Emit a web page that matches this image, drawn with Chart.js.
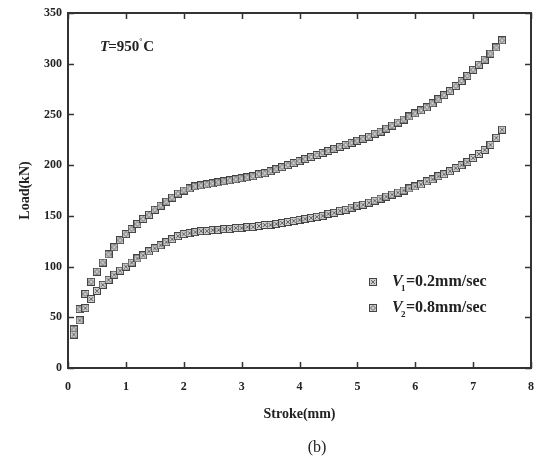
<!DOCTYPE html>
<html><head><meta charset="utf-8">
<script src="https://cdn.jsdelivr.net/npm/chart.js@4/dist/chart.umd.min.js"></script>
<style>html,body{margin:0;padding:0;background:#fff}#wrap{width:536px;height:466px;position:relative}</style>
</head><body><div id="wrap"><canvas id="c" width="536" height="466"></canvas></div>
<script>
const stroke = [0.1,0.2,0.3,0.4,0.5,0.6,0.7,0.8,0.9,1.0,1.1,1.2,1.3,1.4,1.5,1.6,1.7,1.8,1.9,2.0,2.1,2.2,2.3,2.4,2.5,2.6,2.7,2.8,2.9,3.0,3.1,3.2,3.3,3.4,3.5,3.6,3.7,3.8,3.9,4.0,4.1,4.2,4.3,4.4,4.5,4.6,4.7,4.8,4.9,5.0,5.1,5.2,5.3,5.4,5.5,5.6,5.7,5.8,5.9,6.0,6.1,6.2,6.3,6.4,6.5,6.6,6.7,6.8,6.9,7.0,7.1,7.2,7.3,7.4,7.5];
const loadV1 = [33,47,59,68,76,82,87,92,96,100,104,108,111,115,118,121,124,127,130,132,133,134,135,135,136,136,137,137,138,138,139,139,140,141,141,142,143,144,145,146,147,148,149,150,152,153,155,156,158,160,161,163,165,167,169,171,173,175,177,179,181,184,186,189,191,194,197,200,203,207,211,215,220,227,235];
const loadV2 = [38,58,73,85,95,104,112,119,126,132,137,142,147,151,156,160,164,168,172,175,177,179,180,181,182,183,184,185,186,187,188,189,191,192,194,196,198,200,202,204,206,208,210,212,214,216,218,220,222,224,226,228,231,233,236,239,242,245,248,251,254,257,261,265,269,273,278,283,288,294,299,304,310,316,323];
const xTicks = [0,1,2,3,4,5,6,7,8];
const yTicks = [0,50,100,150,200,250,300,350];
const seriesNames = ["=0.2mm/sec","=0.8mm/sec"];

function makeMarker(kind){
  const c = document.createElement('canvas'); c.width = 8; c.height = 8;
  const g = c.getContext('2d');
  g.fillStyle = '#cfcfcf'; g.fillRect(0,0,8,8);
  g.strokeStyle = '#444'; g.lineWidth = 1; g.strokeRect(0.5,0.5,7,7);
  g.strokeStyle = '#666';
  g.beginPath();
  if (kind === 1) { g.moveTo(2,2); g.lineTo(6,6); g.moveTo(6,2); g.lineTo(2,6); }
  else { g.moveTo(4,1.5); g.lineTo(6.5,4); g.lineTo(4,6.5); g.lineTo(1.5,4); g.closePath(); }
  g.stroke();
  return c;
}
const m1 = makeMarker(1), m2 = makeMarker(2);

const serif = "'Liberation Serif','DejaVu Serif',serif";
const decor = {
  id: 'decor',
  afterDraw(chart){
    const {ctx, chartArea:a, scales:{x, y}} = chart;
    ctx.save();
    ctx.strokeStyle = '#333'; ctx.lineWidth = 2;
    ctx.strokeRect(a.left, a.top, a.right - a.left, a.bottom - a.top);
    ctx.lineWidth = 1.5;
    ctx.beginPath();
    xTicks.forEach(v => { const px = Math.round(x.getPixelForValue(v)) + 0.5;
      ctx.moveTo(px, a.bottom); ctx.lineTo(px, a.bottom - 6);
      ctx.moveTo(px, a.top); ctx.lineTo(px, a.top + 6); });
    yTicks.forEach(v => { const py = Math.round(y.getPixelForValue(v)) + 0.5;
      ctx.moveTo(a.left, py); ctx.lineTo(a.left + 6, py);
      ctx.moveTo(a.right, py); ctx.lineTo(a.right - 6, py); });
    ctx.stroke();
    ctx.fillStyle = '#222';
    ctx.textBaseline = 'middle'; ctx.textAlign = 'center';
    ctx.font = 'bold 14px ' + serif;
    ctx.fillText('Stroke(mm)', (a.left + a.right) / 2, 414);
    ctx.font = '16px ' + serif;
    ctx.fillText('(b)', 317, 448);
    // T=950°C
    ctx.textAlign = 'left';
    ctx.font = 'italic bold 15px ' + serif;
    ctx.fillText('T', 100, 47);
    let w = ctx.measureText('T').width;
    ctx.font = 'bold 15px ' + serif;
    ctx.fillText('=950', 100 + w - 1, 47);
    w += ctx.measureText('=950').width - 1;
    ctx.font = 'bold 8px ' + serif;
    ctx.fillText('°', 100 + w, 42);
    w += 4;
    ctx.font = 'bold 15px ' + serif;
    ctx.fillText('C', 100 + w, 47);
    // legend
    [[m1, 282], [m2, 308]].forEach(([m, ly], i) => {
      ctx.drawImage(m, 369, ly - 4);
      ctx.font = 'italic bold 16px ' + serif;
      ctx.fillText('V', 392, ly);
      ctx.font = 'bold 9px ' + serif;
      ctx.fillText(String(i + 1), 401, ly + 7);
      ctx.font = 'bold 16px ' + serif;
      ctx.fillText(seriesNames[i], 406, ly);
    });
    ctx.restore();
  }
};

new Chart(document.getElementById('c'), {
  type: 'scatter',
  data: { datasets: [
    { label: 'V1=0.2mm/sec', data: stroke.map((s,i)=>({x:s, y:loadV1[i]})), pointStyle: m1, pointRadius: 4 },
    { label: 'V2=0.8mm/sec', data: stroke.map((s,i)=>({x:s, y:loadV2[i]})), pointStyle: m2, pointRadius: 4 }
  ]},
  options: {
    responsive: false, animation: false, devicePixelRatio: 1,
    layout: { padding: { top: 13, right: 3, left: 0, bottom: 0 } },
    plugins: { legend: { display: false }, tooltip: { enabled: false } },
    scales: {
      x: { type: 'linear', min: 0, max: 8,
        afterFit(s){ s.height = 98; s.paddingLeft = 0; s.paddingRight = 0; },
        afterBuildTicks(s){ s.ticks = xTicks.map(v => ({value: v})); },
        grid: { display: true, drawOnChartArea: false, drawTicks: false },
        border: { display: false },
        ticks: { padding: 12, color: '#222', font: { family: serif, weight: 'bold', size: 12 } } },
      y: { type: 'linear', min: 0, max: 350,
        afterFit(s){ s.width = 68; s.paddingTop = 0; s.paddingBottom = 0; },
        afterBuildTicks(s){ s.ticks = yTicks.map(v => ({value: v})); },
        grid: { display: true, drawOnChartArea: false, drawTicks: false },
        border: { display: false },
        title: { display: true, text: 'Load(kN)', color: '#222', padding: { top: 17, bottom: 0 }, font: { family: serif, weight: 'bold', size: 14 } },
        ticks: { padding: 6, color: '#222', font: { family: serif, weight: 'bold', size: 12 } } }
    }
  },
  plugins: [decor]
});
</script></body></html>
